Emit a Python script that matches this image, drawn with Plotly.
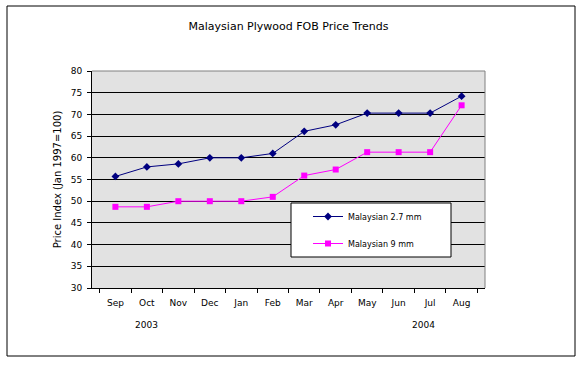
import plotly.graph_objects as go

months = ["Sep", "Oct", "Nov", "Dec", "Jan", "Feb", "Mar", "Apr", "May", "Jun", "Jul", "Aug"]
ply_27mm = [55.7, 57.9, 58.6, 60.0, 60.0, 61.0, 66.1, 67.6, 70.3, 70.3, 70.3, 74.2]
ply_9mm = [48.7, 48.7, 50.0, 50.0, 50.0, 51.0, 55.9, 57.3, 61.3, 61.3, 61.3, 72.1]
year_labels = ["2003", "2004"]

W, H = 582, 367
L, R, T, B = 92, 485, 71, 288
PW, PH = R - L, B - T

FAM = "DejaVu Sans, Verdana, sans-serif"
font = dict(family=FAM, size=9, color="black")


def px(x):
    return (x - L) / PW


def py(y):
    return (B - y) / PH


fig = go.Figure()
fig.add_trace(go.Scatter(
    x=months, y=ply_27mm, name="Malaysian 2.7 mm", mode="lines+markers",
    line=dict(color="#000080", width=1),
    marker=dict(symbol="diamond", size=6, color="#000080"),
    legendgroup="a",
))
fig.add_trace(go.Scatter(
    x=months, y=ply_9mm, name="Malaysian 9 mm", mode="lines+markers",
    line=dict(color="#FF00FF", width=1),
    marker=dict(symbol="square", size=6, color="#FF00FF"),
    legendgroup="b",
))

fig.update_layout(
    width=W, height=H,
    margin=dict(l=L, r=W - R, t=T, b=H - B, autoexpand=False),
    paper_bgcolor="white",
    plot_bgcolor="#E2E2E2",
    font=font,
    title=dict(text="Malaysian Plywood FOB Price Trends", x=0.5, xref="paper",
               xanchor="center", y=1 - 26 / H, yanchor="middle",
               font=dict(family=FAM, size=11)),
    showlegend=True,
    legend=dict(
        x=px(308), y=py(202), xanchor="left", yanchor="top",
        bgcolor="rgba(0,0,0,0)", borderwidth=0,
        traceorder="grouped", tracegroupgap=8,
        font=dict(family=FAM, size=8),
    ),
    xaxis=dict(
        type="category", tickson="boundaries", ticks="outside", ticklen=4,
        tickcolor="black", showline=True, linecolor="black", linewidth=1,
        showgrid=False, tickfont=font, ticklabelstandoff=6,
    ),
    yaxis=dict(
        range=[30, 80], dtick=5, ticks="outside", ticklen=4, tickcolor="black",
        showline=True, linecolor="black", linewidth=1,
        showgrid=True, gridcolor="black", gridwidth=1, zeroline=False,
        tickfont=font, ticklabelstandoff=3,
        title=dict(text="Price Index (Jan 1997=100)",
                   font=dict(family=FAM, size=10), standoff=7),
    ),
    shapes=[
        dict(type="line", xref="paper", yref="paper", x0=1, x1=1, y0=0, y1=1,
             line=dict(color="#808080", width=1)),
        dict(type="line", xref="paper", yref="paper", x0=0, x1=1, y0=1, y1=1,
             line=dict(color="#808080", width=1)),
        dict(type="rect", xref="paper", yref="paper", layer="above",
             x0=px(291), x1=px(451), y0=py(257), y1=py(203),
             fillcolor="white", line=dict(color="black", width=1)),
        dict(type="rect", xref="paper", yref="paper",
             x0=px(7), x1=px(575), y0=py(356), y1=py(6),
             line=dict(color="black", width=1)),
    ],
    annotations=[
        dict(text=year_labels[0], xref="paper", yref="paper",
             x=px(146), y=py(325), showarrow=False,
             xanchor="center", yanchor="middle", font=font),
        dict(text=year_labels[1], xref="paper", yref="paper",
             x=px(423), y=py(325), showarrow=False,
             xanchor="center", yanchor="middle", font=font),
    ],
)

fig.write_html("out.html", config={"displayModeBar": False},
               post_script="document.body.style.margin='0';")
